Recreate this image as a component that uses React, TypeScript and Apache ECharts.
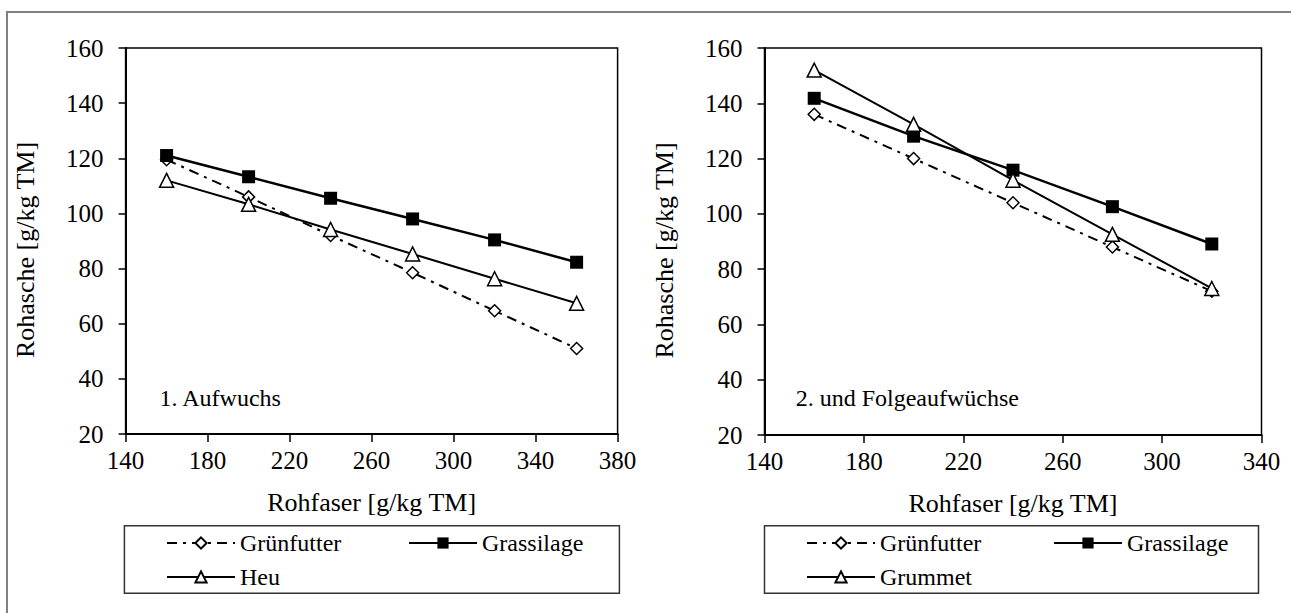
import React, { useEffect, useRef } from "react";
import * as echarts from "echarts";

const fiberLeft = [160, 200, 240, 280, 320, 360];
const gruenLeft = [119.5, 106, 92, 78.5, 64.7, 51];
const silageLeft = [121, 113.3, 105.5, 98, 90.4, 82.3];
const heuLeft = [112, 103.3, 94.2, 85.3, 76.3, 67.4];

const fiberRight = [160, 200, 240, 280, 320];
const gruenRight = [136, 120, 104, 88, 72];
const silageRight = [141.8, 128.1, 115.8, 102.6, 89.1];
const grummetRight = [152, 132.4, 112.2, 92.6, 73];

const xTicksLeft = { min: 140, max: 380, step: 40 };
const xTicksRight = { min: 140, max: 340, step: 40 };
const yTicks = { min: 20, max: 160, step: 20 };

const FONT = "Liberation Serif";

const pairs = (xs: number[], ys: number[]) => xs.map((x, i) => [x, ys[i]]);

export default function App() {
  const ref = useRef<HTMLDivElement>(null);
  useEffect(() => {
    if (!ref.current) return;
    const chart = echarts.init(ref.current, null, { renderer: "svg" });

    const xAxisBase = (gridIndex: number, t: { min: number; max: number; step: number }) => ({
      type: "value",
      gridIndex,
      min: t.min,
      max: t.max,
      interval: t.step,
      name: "Rohfaser [g/kg TM]",
      nameLocation: "middle",
      nameGap: 55,
      nameTextStyle: { fontFamily: FONT, fontSize: 26, color: "#000" },
      axisLine: { show: true, onZero: false, lineStyle: { color: "#000", width: 2 } },
      axisTick: { show: true, length: 8, inside: false, lineStyle: { color: "#000", width: 1.5 } },
      axisLabel: { fontFamily: FONT, fontSize: 25, color: "#000", margin: 14 },
      splitLine: { show: false },
    });
    const yAxisBase = (gridIndex: number) => ({
      type: "value",
      gridIndex,
      min: yTicks.min,
      max: yTicks.max,
      interval: yTicks.step,
      name: "Rohasche [g/kg TM]",
      nameLocation: "middle",
      nameRotate: 90,
      nameGap: 87,
      nameTextStyle: { fontFamily: FONT, fontSize: 26, color: "#000", padding: [0, 18, 0, 0] },
      axisLine: { show: true, onZero: false, lineStyle: { color: "#000", width: 2 } },
      axisTick: { show: true, length: 7, inside: false, lineStyle: { color: "#000", width: 1.5 } },
      axisLabel: { fontFamily: FONT, fontSize: 25, color: "#000", margin: 22 },
      splitLine: { show: false },
    });

    const dashDot = [10, 6, 3, 6];
    const gruenStyle = {
      symbol: "diamond",
      symbolSize: 12,
      itemStyle: { color: "#fff", borderColor: "#000", borderWidth: 1.5 },
      lineStyle: { color: "#000", width: 2, type: dashDot },
    };
    const silageStyle = {
      symbol: "rect",
      symbolSize: 13,
      itemStyle: { color: "#000", borderColor: "#000", borderWidth: 0 },
      lineStyle: { color: "#000", width: 2.5, type: "solid" },
    };
    const triStyle = {
      symbol: "triangle",
      symbolSize: 14,
      itemStyle: { color: "#fff", borderColor: "#000", borderWidth: 1.5 },
      lineStyle: { color: "#000", width: 2, type: "solid" },
    };

    const mkSeries = (name: string, data: number[][], idx: number, style: any, z: number) => ({
      type: "line",
      name,
      xAxisIndex: idx,
      yAxisIndex: idx,
      data,
      showSymbol: true,
      showAllSymbol: true,
      z,
      ...style,
    });

    const legendBase = {
      orient: "horizontal",
      selectedMode: false,
      padding: 0,
      itemWidth: 68,
      itemHeight: 14,
      itemGap: 0,
      textStyle: { fontFamily: FONT, fontSize: 24, color: "#000" },
    };

    const row1 = 531;
    const row2 = 565;

    chart.setOption({
      animation: false,
      backgroundColor: "#fff",
      textStyle: { fontFamily: FONT },
      grid: [
        { left: 125.6, top: 48, width: 492, height: 386, show: true, borderColor: "#000", borderWidth: 1.5, backgroundColor: "transparent" },
        { left: 764.5, top: 48, width: 497, height: 387, show: true, borderColor: "#000", borderWidth: 1.5, backgroundColor: "transparent" },
      ],
      xAxis: [xAxisBase(0, xTicksLeft), xAxisBase(1, xTicksRight)],
      yAxis: [yAxisBase(0), yAxisBase(1)],
      legend: [
        { ...legendBase, data: ["Grünfutter"], left: 166, top: row1 },
        { ...legendBase, data: ["Grassilage"], left: 408, top: row1 },
        { ...legendBase, data: ["Heu"], left: 166, top: row2 },
        { ...legendBase, data: ["Grünfutter"], left: 806, top: row1 },
        { ...legendBase, data: ["Grassilage"], left: 1053, top: row1 },
        { ...legendBase, data: ["Grummet"], left: 806, top: row2 },
      ],
      series: [
        mkSeries("Grünfutter", pairs(fiberLeft, gruenLeft), 0, gruenStyle, 3),
        mkSeries("Grassilage", pairs(fiberLeft, silageLeft), 0, silageStyle, 4),
        mkSeries("Heu", pairs(fiberLeft, heuLeft), 0, triStyle, 5),
        mkSeries("Grünfutter", pairs(fiberRight, gruenRight), 1, gruenStyle, 3),
        mkSeries("Grassilage", pairs(fiberRight, silageRight), 1, silageStyle, 4),
        mkSeries("Grummet", pairs(fiberRight, grummetRight), 1, triStyle, 5),
      ],
      graphic: [
        {
          type: "rect",
          shape: { x: 7, y: 12, width: 1300, height: 700 },
          style: { fill: "none", stroke: "#808080", lineWidth: 2 },
          silent: true,
          z: -10,
        },
        {
          type: "rect",
          shape: { x: 124.4, y: 525.7, width: 495, height: 67.6 },
          style: { fill: "none", stroke: "#333", lineWidth: 1.5 },
          silent: true,
        },
        {
          type: "rect",
          shape: { x: 764.5, y: 525.7, width: 494, height: 67.6 },
          style: { fill: "none", stroke: "#333", lineWidth: 1.5 },
          silent: true,
        },
        {
          type: "text",
          x: 159.6,
          y: 398,
          style: { text: "1. Aufwuchs", fontFamily: FONT, fontSize: 24, fill: "#000", verticalAlign: "middle", align: "left" },
          silent: true,
        },
        {
          type: "text",
          x: 795.7,
          y: 398,
          style: { text: "2. und Folgeaufwüchse", fontFamily: FONT, fontSize: 24, fill: "#000", verticalAlign: "middle", align: "left" },
          silent: true,
        },
      ],
    });
    return () => chart.dispose();
  }, []);

  return (
    <div
      ref={ref}
      style={{ position: "fixed", left: 0, top: 0, width: 1291, height: 613, background: "#fff" }}
    />
  );
}
